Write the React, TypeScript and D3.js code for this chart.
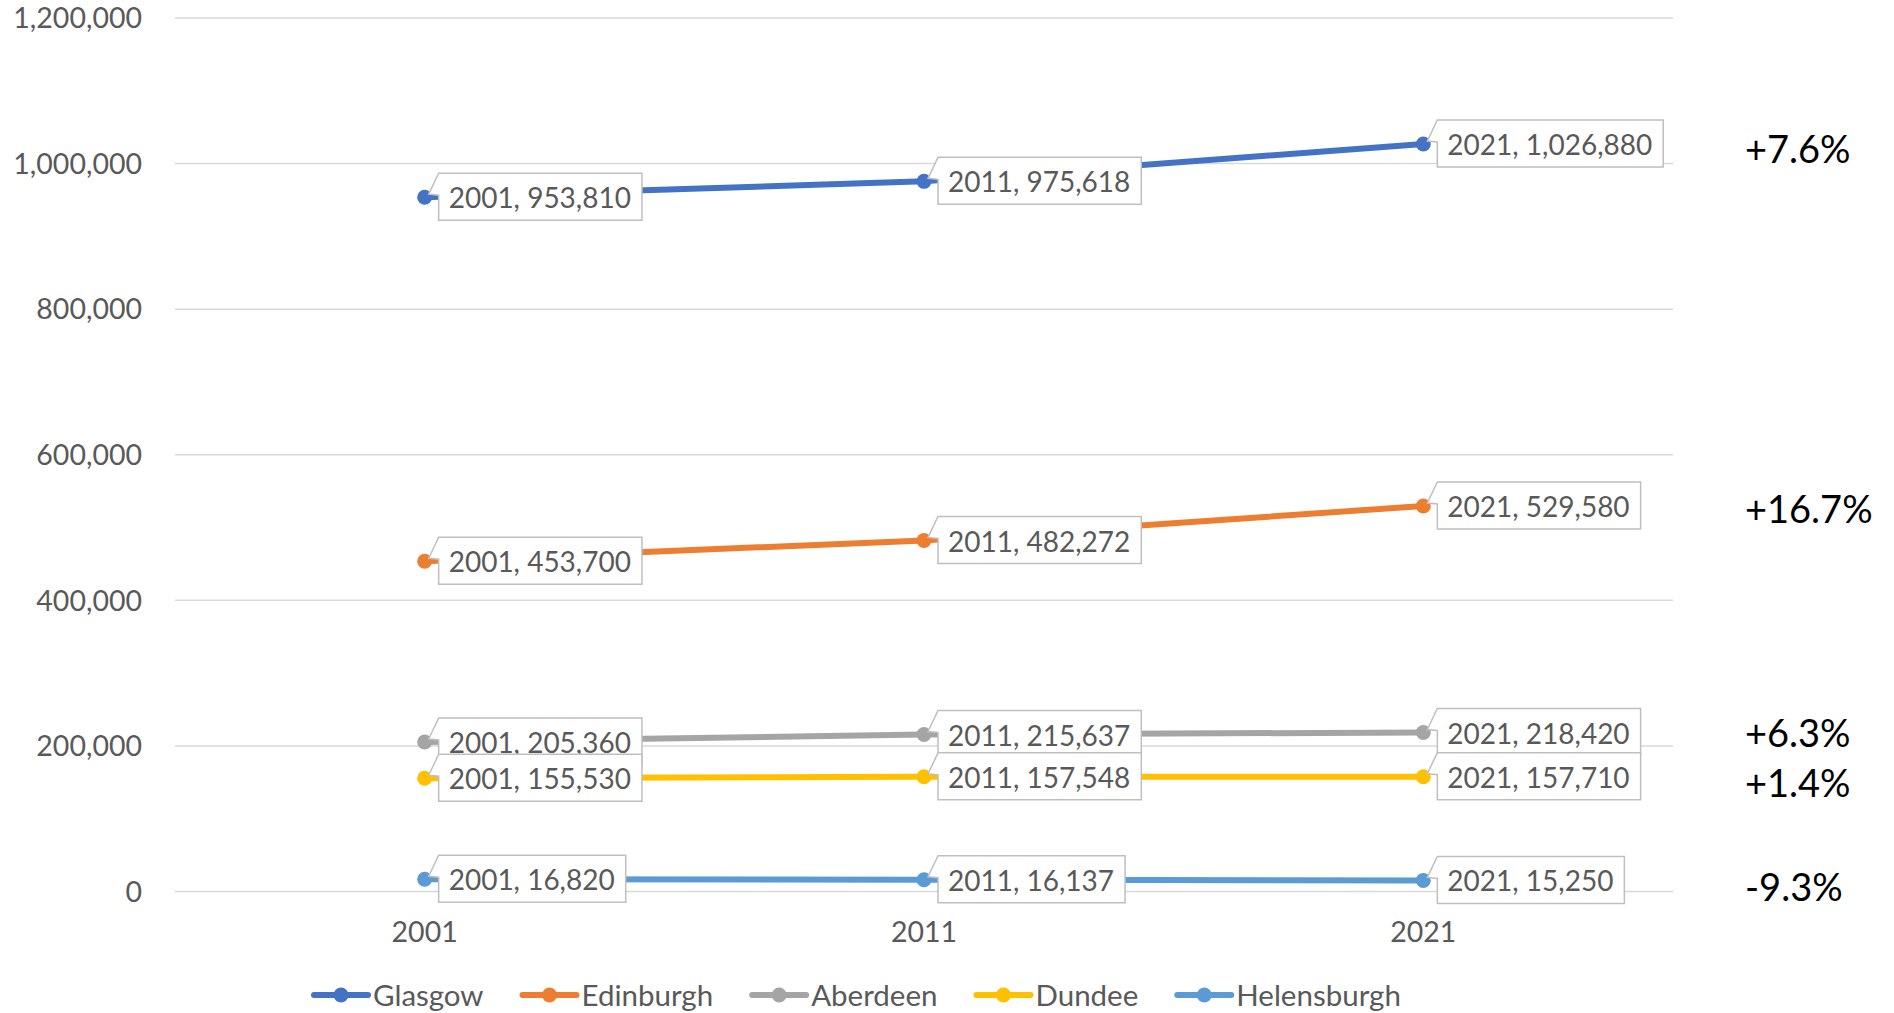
import { useEffect, useRef } from "react";
import * as d3 from "d3";

const years = ["2001", "2011", "2021"];
const cities = ["Glasgow", "Edinburgh", "Aberdeen", "Dundee", "Helensburgh"];
const colors = ["#4472C4", "#ED7D31", "#A5A5A5", "#FFC000", "#5B9BD5"];

const glasgow = [953810, 975618, 1026880];
const edinburgh = [453700, 482272, 529580];
const aberdeen = [205360, 215637, 218420];
const dundee = [155530, 157548, 157710];
const helensburgh = [16820, 16137, 15250];

const changeLabels = ["+7.6%", "+16.7%", "+6.3%", "+1.4%", "-9.3%"];
// small vertical nudge of the change labels relative to the 2021 point
const changeNudge = [5, 3, 1, 7, 7];

const yTicks = [0, 200000, 400000, 600000, 800000, 1000000, 1200000];

const W = 1894;
const H = 1013;

export default function App() {
  const ref = useRef<SVGSVGElement | null>(null);

  useEffect(() => {
    if (!ref.current) return;
    const svg = d3.select(ref.current);
    svg.selectAll("*").remove();

    const font = "Lato, 'Open Sans', sans-serif";
    const textColor = "#595959";
    const series = [glasgow, edinburgh, aberdeen, dundee, helensburgh];

    const plot = { left: 175, right: 1673, top: 18, bottom: 891.5 };

    const x = d3
      .scalePoint<string>()
      .domain(years)
      .range([plot.left, plot.right])
      .padding(0.5);

    const y = d3
      .scaleLinear()
      .domain([0, 1200000])
      .range([plot.bottom, plot.top]);

    // gridlines
    svg
      .append("g")
      .selectAll("line")
      .data(yTicks)
      .join("line")
      .attr("x1", plot.left)
      .attr("x2", plot.right)
      .attr("y1", (d) => y(d))
      .attr("y2", (d) => y(d))
      .attr("stroke", "#D9D9D9")
      .attr("stroke-width", 1.5);

    // y labels
    svg
      .append("g")
      .selectAll("text")
      .data(yTicks)
      .join("text")
      .attr("x", 142)
      .attr("y", (d) => y(d))
      .attr("dy", "0.36em")
      .attr("text-anchor", "end")
      .attr("font-family", font)
      .attr("font-size", 28.5)
      .attr("fill", textColor)
      .text((d) => d3.format(",")(d));

    // x labels
    svg
      .append("g")
      .selectAll("text")
      .data(years)
      .join("text")
      .attr("x", (d) => x(d) || 0)
      .attr("y", 932)
      .attr("dy", "0.36em")
      .attr("text-anchor", "middle")
      .attr("font-family", font)
      .attr("font-size", 28.5)
      .attr("fill", textColor)
      .text((d) => d);

    const line = d3
      .line<number>()
      .x((_, i) => x(years[i]) || 0)
      .y((d) => y(d));

    series.forEach((vals, s) => {
      svg
        .append("path")
        .datum(vals)
        .attr("fill", "none")
        .attr("stroke", colors[s])
        .attr("stroke-width", 6)
        .attr("stroke-linecap", "round")
        .attr("d", line);

      svg
        .append("g")
        .selectAll("circle")
        .data(vals)
        .join("circle")
        .attr("cx", (_, i) => x(years[i]) || 0)
        .attr("cy", (d) => y(d))
        .attr("r", 7.5)
        .attr("fill", colors[s]);
    });

    // data label callouts
    series.forEach((vals) => {
      vals.forEach((v, i) => {
        const px = x(years[i]) || 0;
        const py = y(v);
        const g = svg.append("g");
        const path = g.append("path");
        const left = px + 14;
        const txt = g
          .append("text")
          .attr("x", left + 10)
          .attr("y", py + 1)
          .attr("dy", "0.36em")
          .attr("font-family", font)
          .attr("font-size", 28)
          .attr("fill", textColor)
          .text(`${years[i]}, ${d3.format(",")(v)}`);
        const tw = (txt.node() as SVGTextElement).getComputedTextLength();
        const top = py - 24;
        const bottom = top + 47;
        const right = left + tw + 21;
        path
          .attr(
            "d",
            `M${left},${top}H${right}V${bottom}H${left}V${top + 22}L${px + 4},${py - 3}Z`
          )
          .attr("fill", "white")
          .attr("stroke", "#BFBFBF")
          .attr("stroke-width", 1.5)
          .attr("stroke-linejoin", "miter");
      });
    });

    // change annotations
    series.forEach((vals, s) => {
      svg
        .append("text")
        .attr("x", 1745)
        .attr("y", y(vals[vals.length - 1]) + changeNudge[s])
        .attr("dy", "0.36em")
        .attr("font-family", font)
        .attr("font-size", 38)
        .attr("fill", "#000000")
        .text(changeLabels[s]);
    });

    // legend
    const legend = svg.append("g").attr("transform", "translate(314, 995)");
    let lx = 0;
    cities.forEach((c, s) => {
      const item = legend.append("g").attr("transform", `translate(${lx},0)`);
      item
        .append("line")
        .attr("x1", 0)
        .attr("x2", 54)
        .attr("y1", 0)
        .attr("y2", 0)
        .attr("stroke", colors[s])
        .attr("stroke-width", 6)
        .attr("stroke-linecap", "round");
      item
        .append("circle")
        .attr("cx", 27)
        .attr("cy", 0)
        .attr("r", 7.5)
        .attr("fill", colors[s]);
      const t = item
        .append("text")
        .attr("x", 59)
        .attr("y", 0)
        .attr("dy", "0.36em")
        .attr("font-family", font)
        .attr("font-size", 29.5)
        .attr("fill", textColor)
        .text(c);
      const tw = (t.node() as SVGTextElement).getComputedTextLength();
      lx += 59 + tw + 39;
    });
  }, []);

  return (
    <svg
      ref={ref}
      width={W}
      height={H}
      style={{ position: "absolute", left: 0, top: 0, background: "white" }}
    />
  );
}
